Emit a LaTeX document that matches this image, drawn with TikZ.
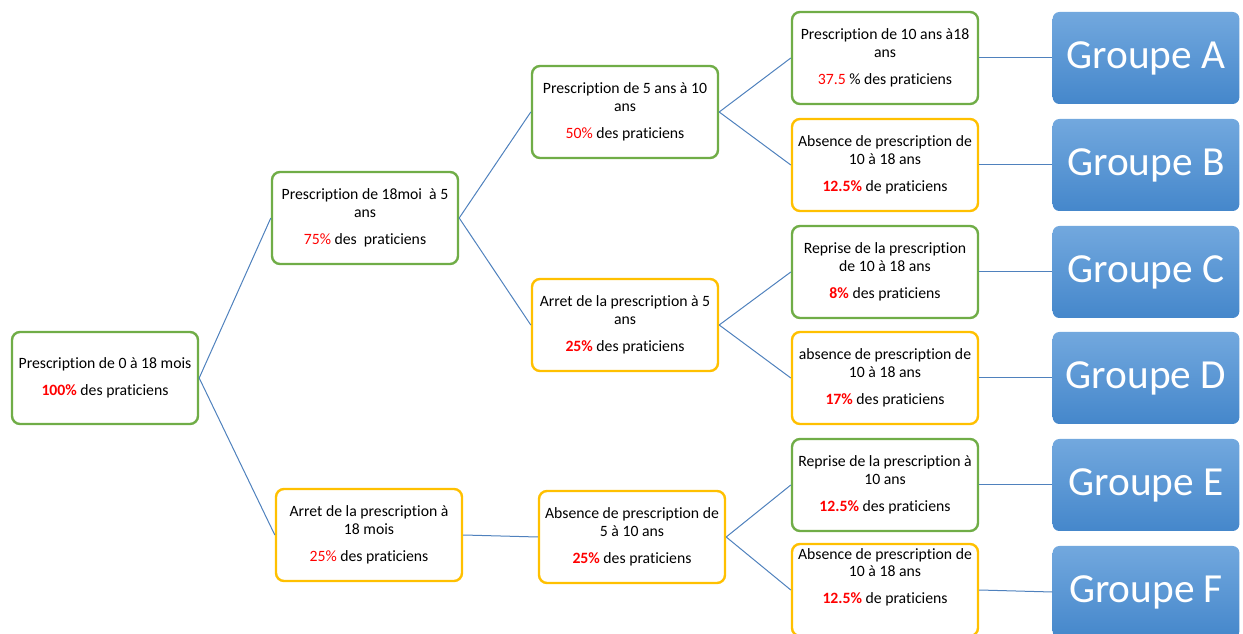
\documentclass[tikz,border=0pt]{standalone}
\usepackage{fontspec}
\setmainfont[RawFeature=-liga]{Carlito}
\definecolor{boxgreen}{RGB}{112,173,71}
\definecolor{boxyellow}{RGB}{255,192,0}
\definecolor{linkblue}{RGB}{79,129,189}
\definecolor{grouptop}{RGB}{114,168,222}
\definecolor{groupbottom}{RGB}{69,135,203}
\begin{document}
\begin{tikzpicture}[
    x=0.75pt, y=-0.75pt,
    every node/.style={font=\fontsize{11.8}{13}\selectfont},
    stage/.style={rectangle, rounded corners=6pt, line width=1.8pt, fill=white,
        minimum width=139.5pt, minimum height=69pt, align=center, inner sep=2pt},
    greenbox/.style={stage, draw=boxgreen},
    yellowbox/.style={stage, draw=boxyellow},
    groupbox/.style={rectangle, rounded corners=5pt, top color=grouptop, bottom color=groupbottom,
        draw=none, minimum width=140pt, minimum height=69pt, text=white,
        font=\fontsize{31}{34}\selectfont},
    link/.style={draw=linkblue, line width=0.75pt}
]

    % Frame of the picture
    \clip (0,0) rectangle (1243,634);

    % Root
    \node[greenbox] (root) at (105,378) {Prescription de 0 à 18 mois\\[7.5pt]{\color{red}\bfseries 100\%} des praticiens};

    % Level 1
    \node[greenbox] (pres18m) at (365,218) {Prescription de 18moi\ \ à 5\\ans\\[7.5pt]{\color{red}75\%} des\ \ praticiens};
    \node[yellowbox] (arret18m) at (369,535) {Arret de la prescription à\\18 mois\\[7.5pt]{\color{red}25\%} des praticiens};

    % Level 2
    \node[greenbox] (pres5a) at (625,112) {Prescription de 5 ans à 10\\ans\\[7.5pt]{\color{red}50\%} des praticiens};
    \node[yellowbox] (arret5a) at (625,325) {Arret de la prescription à 5\\ans\\[7.5pt]{\color{red}\bfseries 25\%} des praticiens};
    \node[yellowbox] (abs5a) at (632,537) {Absence de prescription de\\5 à 10 ans\\[7.5pt]{\color{red}\bfseries 25\%} des praticiens};

    % Level 3
    \node[greenbox] (presA) at (885,58) {Prescription de 10 ans à18\\ans\\[7.5pt]{\color{red}37.5} \% des praticiens};
    \node[yellowbox] (absB) at (885,165) {Absence de prescription de\\10 à 18 ans\\[7.5pt]{\color{red}\bfseries 12.5\%} de praticiens};
    \node[greenbox] (repC) at (885,272) {Reprise de la prescription\\de 10 à 18 ans\\[7.5pt]{\color{red}\bfseries 8\%} des praticiens};
    \node[yellowbox] (absD) at (885,378) {absence de prescription de\\10 à 18 ans\\[7.5pt]{\color{red}\bfseries 17\%} des praticiens};
    \node[greenbox] (repE) at (885,485) {Reprise de la prescription à\\10 ans\\[7.5pt]{\color{red}\bfseries 12.5\%} des praticiens};
    \node[yellowbox] (absF) at (885,590) {Absence de prescription de\\10 à 18 ans\\[7.5pt]{\color{red}\bfseries 12.5\%} de praticiens\\[8pt]};

    % Groups
    \node[groupbox] (grpA) at (1146,58) {Groupe A};
    \node[groupbox] (grpB) at (1146,165) {Groupe B};
    \node[groupbox] (grpC) at (1146,272) {Groupe C};
    \node[groupbox] (grpD) at (1146,378) {Groupe D};
    \node[groupbox] (grpE) at (1146,485) {Groupe E};
    \node[groupbox] (grpF) at (1146,592) {Groupe F};

    % Links
    \draw[link] (root.east) -- (pres18m.west);
    \draw[link] (root.east) -- (arret18m.west);
    \draw[link] (pres18m.east) -- (pres5a.west);
    \draw[link] (pres18m.east) -- (arret5a.west);
    \draw[link] (arret18m.east) -- (abs5a.west);
    \draw[link] (pres5a.east) -- (presA.west);
    \draw[link] (pres5a.east) -- (absB.west);
    \draw[link] (arret5a.east) -- (repC.west);
    \draw[link] (arret5a.east) -- (absD.west);
    \draw[link] (abs5a.east) -- (repE.west);
    \draw[link] (abs5a.east) -- (absF.west);
    \draw[link] (presA.east) -- (grpA.west);
    \draw[link] (absB.east) -- (grpB.west);
    \draw[link] (repC.east) -- (grpC.west);
    \draw[link] (absD.east) -- (grpD.west);
    \draw[link] (repE.east) -- (grpE.west);
    \draw[link] (absF.east) -- (grpF.west);

\end{tikzpicture}
\end{document}
